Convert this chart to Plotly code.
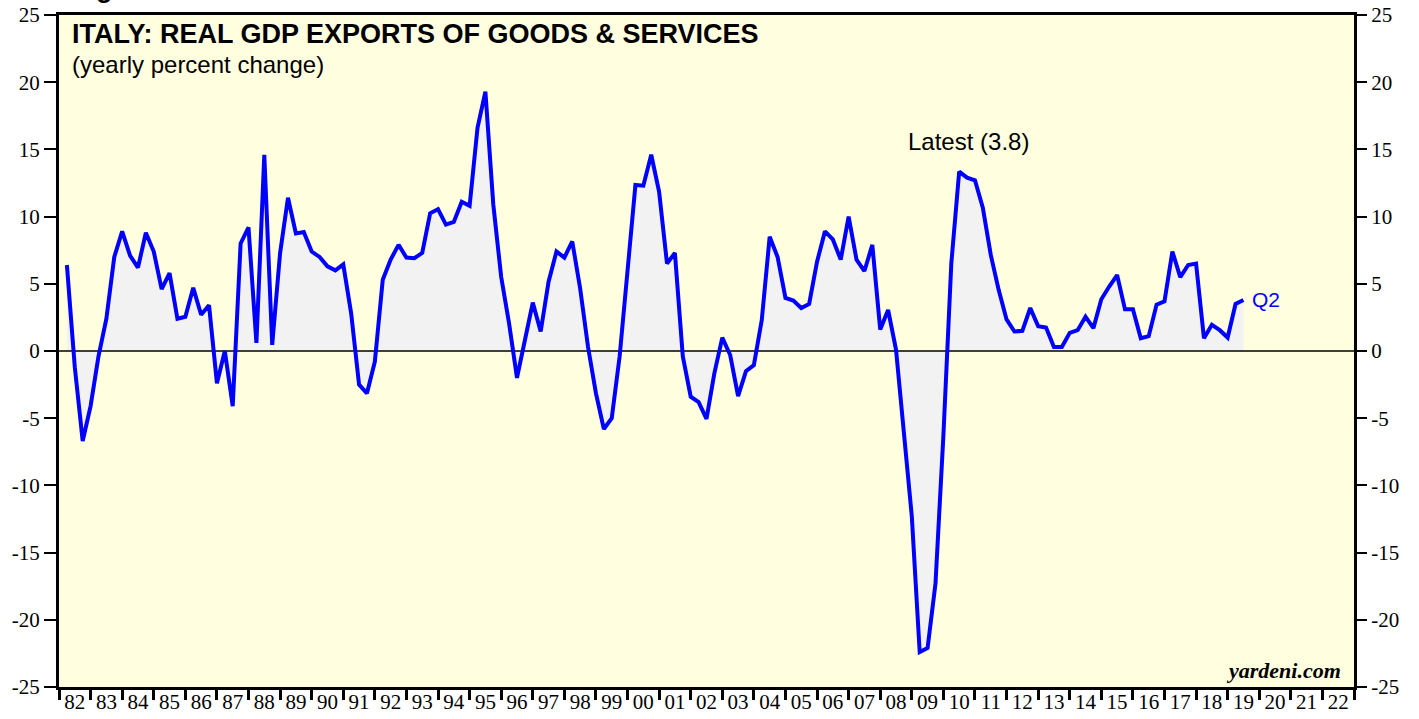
import plotly.graph_objects as go

# Quarterly data, 1982Q1 .. 2019Q2 (yearly percent change)
start_year = 1982
values = [
    6.4, -1.2, -6.7, -4.1,      # 1982
    -0.4, 2.4, 7.0, 8.9,        # 1983
    7.1, 6.2, 8.8, 7.4,         # 1984
    4.6, 5.8, 2.4, 2.55,        # 1985
    4.7, 2.7, 3.4, -2.4,        # 1986
    0.0, -4.1, 8.0, 9.2,        # 1987
    0.6, 14.6, 0.45, 7.3,       # 1988
    11.4, 8.75, 8.85, 7.4,      # 1989
    7.0, 6.3, 6.0, 6.45,        # 1990
    2.8, -2.5, -3.15, -0.8,     # 1991
    5.3, 6.8, 7.9, 6.95,        # 1992
    6.9, 7.3, 10.25, 10.55,     # 1993
    9.4, 9.6, 11.1, 10.8,       # 1994
    16.6, 19.3, 10.9, 5.5,      # 1995
    2.05, -2.0, 0.8, 3.6,       # 1996
    1.45, 5.15, 7.4, 6.95,      # 1997
    8.15, 4.65, 0.3, -3.15,     # 1998
    -5.8, -5.0, -0.4, 6.0,      # 1999
    12.35, 12.3, 14.6, 11.85,   # 2000
    6.5, 7.3, -0.4, -3.4,       # 2001
    -3.8, -5.05, -1.65, 1.0,    # 2002
    -0.3, -3.35, -1.5, -1.05,   # 2003
    2.3, 8.5, 7.0, 3.95,        # 2004
    3.75, 3.2, 3.5, 6.65,       # 2005
    8.9, 8.3, 6.8, 10.0,        # 2006
    6.8, 5.95, 7.9, 1.6,        # 2007
    3.05, 0.1, -6.0, -12.3,     # 2008
    -22.4, -22.1, -17.3, -6.3,  # 2009
    6.5, 13.35, 12.9, 12.7,     # 2010
    10.65, 7.15, 4.55, 2.35,    # 2011
    1.45, 1.5, 3.2, 1.85,       # 2012
    1.75, 0.3, 0.3, 1.35,       # 2013
    1.55, 2.55, 1.7, 3.85,      # 2014
    4.8, 5.65, 3.1, 3.1,        # 2015
    0.95, 1.1, 3.45, 3.7,       # 2016
    7.4, 5.5, 6.4, 6.5,         # 2017
    0.95, 1.95, 1.55, 1.0,      # 2018
    3.5, 3.8,                   # 2019
]
# position of each quarter: end of quarter on a year axis
x_dates = [start_year + (i + 1) / 4 for i in range(len(values))]

year_ticks = list(range(1982, 2024))
label_years = list(range(1982, 2023))
label_text = [f"{y % 100:02d}" for y in label_years]
y_ticks = list(range(-25, 30, 5))
y_tick_text = [str(v) for v in y_ticks]  # plain hyphen minus

title_text = "ITALY: REAL GDP EXPORTS OF GOODS & SERVICES"
subtitle_text = "(yearly percent change)"
latest_text = "Latest (3.8)"
last_quarter = "Q2"

SANS = "Liberation Sans"
SERIF = "Liberation Serif"

fig = go.Figure()
# grey fill to zero
fig.add_trace(go.Scatter(x=x_dates, y=values, mode="lines", line=dict(width=0),
                         fill="tozeroy", fillcolor="#F2F2F2", showlegend=False,
                         hoverinfo="skip"))
# zero reference line
fig.add_trace(go.Scatter(x=[year_ticks[0], year_ticks[-1]], y=[0, 0], mode="lines",
                         line=dict(color="black", width=1.5), showlegend=False,
                         hoverinfo="skip"))
# main line
fig.add_trace(go.Scatter(x=x_dates, y=values, mode="lines",
                         line=dict(color="#0000FF", width=4), showlegend=False))
# helper trace for overlay axes (labels / right axis)
fig.add_trace(go.Scatter(x=[], y=[], xaxis="x2", yaxis="y2", showlegend=False))

fig.update_layout(
    width=1419, height=719,
    margin=dict(l=59, r=65, t=15, b=32, autoexpand=False),
    paper_bgcolor="white",
    plot_bgcolor="#FFFFE0",
    xaxis=dict(range=[1982, 2023], tickvals=year_ticks, showticklabels=False,
               ticks="outside", ticklen=10, tickwidth=2.5, tickcolor="black",
               showline=True, linecolor="black", linewidth=3, mirror=True,
               showgrid=False, zeroline=False, automargin=False),
    xaxis2=dict(range=[1982, 2023], overlaying="x", anchor="y", side="bottom",
                tickvals=[y + 0.5 for y in label_years], ticktext=label_text,
                ticks="",
                tickfont=dict(family=SERIF, size=21, color="black"),
                showline=False, showgrid=False, zeroline=False, automargin=False),
    yaxis=dict(range=[-25, 25], tickvals=y_ticks, ticktext=y_tick_text,
               ticks="outside", ticklen=12,
               tickwidth=1.5, tickcolor="black",
               tickfont=dict(family=SERIF, size=21, color="black"),
               showline=True, linecolor="black", linewidth=3, mirror=True,
               showgrid=False, zeroline=False, automargin=False),
    yaxis2=dict(range=[-25, 25], tickvals=y_ticks, ticktext=y_tick_text,
                overlaying="y", side="right",
                anchor="x", ticks="outside", ticklen=12, tickwidth=1.5,
                tickcolor="black",
                tickfont=dict(family=SERIF, size=21, color="black"),
                showline=False, showgrid=False, zeroline=False, automargin=False),
)

annotations = [
    dict(text="<b>Figure 1.</b>", xref="paper", yref="paper", x=0.0085, y=1,
         xanchor="left", yanchor="bottom", yshift=10, showarrow=False,
         font=dict(family=SANS, size=27, color="black")),
    dict(text=f"<b>{title_text}</b>", xref="paper", yref="y", x=0.0085, y=23.55,
         xanchor="left", yanchor="middle", showarrow=False,
         font=dict(family=SANS, size=27, color="black")),
    dict(text=subtitle_text, xref="paper", yref="y", x=0.0085, y=21.35,
         xanchor="left", yanchor="middle", showarrow=False,
         font=dict(family=SANS, size=24, color="black")),
    dict(text=latest_text, x=2010.78, y=15.6, xanchor="center", yanchor="middle",
         showarrow=False, font=dict(family=SANS, size=24, color="black")),
    dict(text=last_quarter, x=2019.71, y=values[-1], xanchor="left",
         yanchor="middle", showarrow=False,
         font=dict(family=SANS, size=21, color="#0000FF")),
    dict(text="<b><i>yardeni.com</i></b>", x=2022.65, y=-23.8, xanchor="right",
         yanchor="middle", showarrow=False,
         font=dict(family=SERIF, size=22, color="black")),
]
fig.update_layout(annotations=annotations)

# remove the default page margin so the figure sits at the window's top-left corner
fig.write_html("out.html", config={"displayModeBar": False},
               post_script="document.body.style.margin='0';")
